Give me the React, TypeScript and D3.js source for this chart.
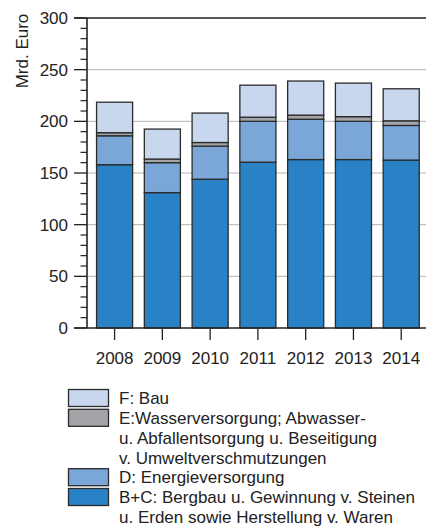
import * as d3 from 'd3';

const years = ['2008', '2009', '2010', '2011', '2012', '2013', '2014'];
// Mrd. Euro, bottom to top
const bergbau = [158, 131, 144, 160.5, 163, 163, 162.5];
const energie = [28, 29, 32, 39.5, 39, 37, 33.5];
const wasser = [3, 3.5, 3.5, 4, 4, 4.5, 4.5];
const bau = [29.5, 29, 28.5, 31, 33, 32.5, 31];

const seriesKeys = ['bergbau', 'energie', 'wasser', 'bau'];
const seriesColors = ['#2a82c6', '#7ba7d8', '#a3a4a8', '#c8d6ee'];
const yTicks = [0, 50, 100, 150, 200, 250, 300];

const legendItems = [
  { color: '#c8d6ee', lines: ['F: Bau'] },
  {
    color: '#a3a4a8',
    lines: [
      'E:Wasserversorgung; Abwasser-',
      'u. Abfallentsorgung u. Beseitigung',
      'v. Umweltverschmutzungen',
    ],
  },
  { color: '#7ba7d8', lines: ['D: Energieversorgung'] },
  {
    color: '#2a82c6',
    lines: ['B+C: Bergbau u. Gewinnung v. Steinen', 'u. Erden sowie Herstellung v. Waren'],
  },
];

export default function App() {
  const width = 426,
    height = 527,
    marginLeft = 87,
    marginTop = 18,
    plotBottom = 328,
    plotRight = 426;

  const font = '"Liberation Sans", Arial, sans-serif';
  const fs = 17;

  const rows = years.map((year, i) => ({
    year,
    bergbau: bergbau[i],
    energie: energie[i],
    wasser: wasser[i],
    bau: bau[i],
  }));
  const stacked = d3.stack<any>().keys(seriesKeys)(rows);

  const x = d3
    .scaleBand()
    .domain(years)
    .range([87, 87 + 48.83 * 7])
    .paddingInner(0.245)
    .paddingOuter(0.2);

  const y = d3.scaleLinear().domain([0, 300]).range([plotBottom, marginTop]);
  const minorTicks = d3.range(0, 301, 10).filter((v) => v % 50 !== 0);

  let lineIdx = 0;
  const legendTop = 398,
    lineStep = 19.8;

  return (
    <svg
      width={width}
      height={height}
      style={{ position: 'absolute', left: 0, top: 0 }}
      fontFamily={font}
    >
      {/* gridlines */}
      {yTicks
        .filter((t) => t > 0 && t < 300)
        .map((t) => (
          <line
            key={t}
            x1={marginLeft}
            x2={plotRight}
            y1={y(t)}
            y2={y(t)}
            stroke="#b3b3b3"
            strokeWidth={1}
          />
        ))}

      {/* bars */}
      {stacked.map((layer, li) => (
        <g key={layer.key} fill={seriesColors[li]} stroke="#2b2b2b" strokeWidth={1.3}>
          {layer.map((d, i) => (
            <rect
              key={years[i]}
              x={x(years[i])}
              y={y(d[1])}
              width={x.bandwidth()}
              height={y(d[0]) - y(d[1])}
            />
          ))}
        </g>
      ))}

      {/* top frame and baseline */}
      <line x1={74} x2={plotRight} y1={y(300)} y2={y(300)} stroke="#222" strokeWidth={1.6} />
      <line x1={74} x2={plotRight} y1={y(0)} y2={y(0)} stroke="#222" strokeWidth={1.6} />
      <line x1={marginLeft} x2={marginLeft} y1={y(300)} y2={y(0)} stroke="#222" strokeWidth={1.6} />

      {/* y ticks */}
      {yTicks.map((t) => (
        <g key={t}>
          <line x1={74} x2={marginLeft} y1={y(t)} y2={y(t)} stroke="#222" strokeWidth={1.3} />
          <text x={68} y={y(t)} dy="0.36em" textAnchor="end" fontSize={fs} fill="#222">
            {t}
          </text>
        </g>
      ))}
      {minorTicks.map((t) => (
        <line key={t} x1={80.5} x2={marginLeft} y1={y(t)} y2={y(t)} stroke="#222" strokeWidth={1.2} />
      ))}

      {/* x ticks */}
      {years.map((yr) => {
        const cx = (x(yr) ?? 0) + x.bandwidth() / 2;
        return (
          <g key={yr}>
            <line x1={cx} x2={cx} y1={329} y2={340} stroke="#222" strokeWidth={1.3} />
            <text x={cx} y={358} dy="0.36em" textAnchor="middle" fontSize={fs} fill="#222">
              {yr}
            </text>
          </g>
        );
      })}

      {/* y label */}
      <text
        transform="translate(22,51) rotate(-90)"
        textAnchor="middle"
        dy="0.36em"
        fontSize={fs}
        fill="#222"
      >
        Mrd. Euro
      </text>

      {/* legend */}
      {legendItems.map((item) => {
        const start = lineIdx;
        lineIdx += item.lines.length;
        const cy = legendTop + start * lineStep;
        return (
          <g key={item.lines[0]}>
            <rect
              x={68.5}
              y={cy - 8.5}
              width={40}
              height={17}
              fill={item.color}
              stroke="#2b2b2b"
              strokeWidth={1.3}
            />
            {item.lines.map((ln, j) => (
              <text
                key={j}
                x={119}
                y={cy + j * lineStep}
                dy="0.36em"
                fontSize={fs}
                fill="#222"
              >
                {ln}
              </text>
            ))}
          </g>
        );
      })}
    </svg>
  );
}
